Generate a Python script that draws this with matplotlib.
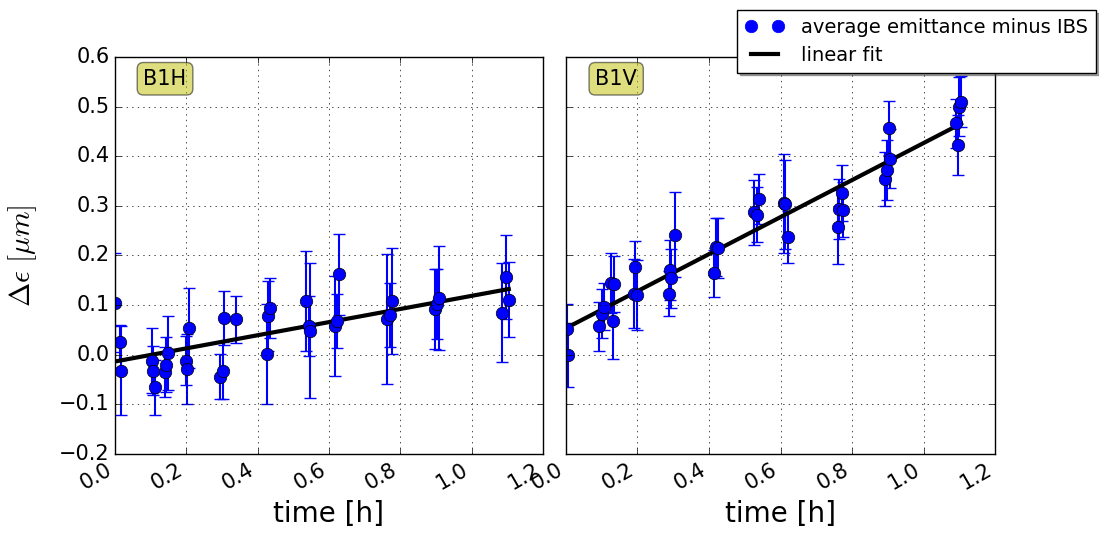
import numpy as np
import matplotlib
matplotlib.use('Agg')
import matplotlib.pyplot as plt
from matplotlib.lines import Line2D

# B1H data: time [h], delta emittance [um], error
t_h = [0.0, 0.014, 0.017, 0.104, 0.107, 0.112, 0.141, 0.144, 0.149, 0.198, 0.203, 0.208,
       0.294, 0.303, 0.305, 0.338, 0.426, 0.429, 0.434, 0.536, 0.543, 0.548, 0.616, 0.622,
       0.627, 0.764, 0.771, 0.778, 0.897, 0.904, 0.908, 1.084, 1.097, 1.104]
eps_h = [0.105, 0.025, -0.032, -0.012, -0.032, -0.066, -0.035, -0.020, 0.003, -0.012, -0.029, 0.054,
         -0.044, -0.032, 0.074, 0.071, 0.001, 0.078, 0.094, 0.108, 0.058, 0.048, 0.058, 0.068,
         0.162, 0.072, 0.080, 0.108, 0.092, 0.102, 0.115, 0.085, 0.157, 0.111]
err_h = [0.10, 0.035, 0.09, 0.066, 0.05, 0.055, 0.05, 0.055, 0.075, 0.05, 0.07, 0.08,
         0.045, 0.058, 0.055, 0.048, 0.101, 0.07, 0.06, 0.10, 0.06, 0.136, 0.10, 0.055,
         0.082, 0.13, 0.065, 0.107, 0.08, 0.07, 0.105, 0.10, 0.085, 0.076]

# B1V data
t_v = [0.002, 0.007, 0.092, 0.100, 0.107, 0.127, 0.131, 0.135, 0.189, 0.194, 0.198, 0.287,
       0.290, 0.295, 0.306, 0.415, 0.420, 0.426, 0.527, 0.534, 0.540, 0.609, 0.613, 0.620,
       0.760, 0.763, 0.771, 0.776, 0.892, 0.899, 0.903, 0.906, 1.090, 1.097, 1.100, 1.105]
eps_v = [0.052, -0.001, 0.057, 0.083, 0.097, 0.144, 0.068, 0.143, 0.123, 0.177, 0.120, 0.123,
         0.171, 0.154, 0.242, 0.164, 0.217, 0.215, 0.287, 0.282, 0.314, 0.305, 0.303, 0.237,
         0.257, 0.294, 0.326, 0.292, 0.354, 0.372, 0.457, 0.395, 0.466, 0.423, 0.500, 0.510]
err_v = [0.05, 0.065, 0.05, 0.05, 0.047, 0.06, 0.076, 0.056, 0.07, 0.052, 0.07, 0.045,
         0.06, 0.06, 0.085, 0.047, 0.058, 0.06, 0.066, 0.055, 0.05, 0.10, 0.09, 0.052,
         0.074, 0.06, 0.057, 0.055, 0.054, 0.06, 0.055, 0.06, 0.05, 0.06, 0.06, 0.052]

panels = [('B1H', t_h, eps_h, err_h), ('B1V', t_v, eps_v, err_v)]

plt.style.use('classic')
fig = plt.figure(figsize=(10.99, 5.37), dpi=100, facecolor='white')
ax1 = fig.add_axes([0.1046, 0.1546, 0.3895, 0.7394])
ax2 = fig.add_axes([0.515, 0.1546, 0.3904, 0.7394], sharey=ax1)

for ax, (name, t, eps, err) in zip([ax1, ax2], panels):
    t = np.array(t)
    ax.errorbar(t, eps, yerr=err, fmt='o', color='blue', ecolor='blue', mec='k',
                markersize=9, capsize=4, elinewidth=1.5, capthick=1)
    k, b = np.polyfit(t, eps, 1)
    xs = np.array([0.0, t.max()])
    ax.plot(xs, k * xs + b, 'k-', lw=3)
    ax.set_xlim(0, 1.2)
    ax.set_ylim(-0.2, 0.6)
    ax.grid(True)
    ax.set_xlabel('time [h]', fontsize=20)
    ax.tick_params(labelsize=15)
    for lab in ax.get_xticklabels():
        lab.set_rotation(30)
        lab.set_ha('right')
    ax.text(0.117, 0.945, name, transform=ax.transAxes, fontsize=15,
            ha='center', va='center',
            bbox=dict(boxstyle='round', facecolor='y', alpha=0.5))

plt.setp(ax2.get_yticklabels(), visible=False)
ax1.set_ylabel(r'$\Delta\epsilon\ [\mu m]$', fontsize=21, labelpad=14)

handles = [Line2D([], [], ls='none', marker='o', color='blue', mec='blue', markersize=9),
           Line2D([], [], color='k', lw=3)]
labels = ['average emittance minus IBS', 'linear fit']
fig.legend(handles, labels, loc='upper right', bbox_to_anchor=(1.006, 0.999),
           fontsize=14, numpoints=2, shadow=True, fancybox=False,
           handlelength=2.0, handletextpad=0.9, borderpad=0.4, labelspacing=0.45)

fig.savefig('out.png', dpi=100)
